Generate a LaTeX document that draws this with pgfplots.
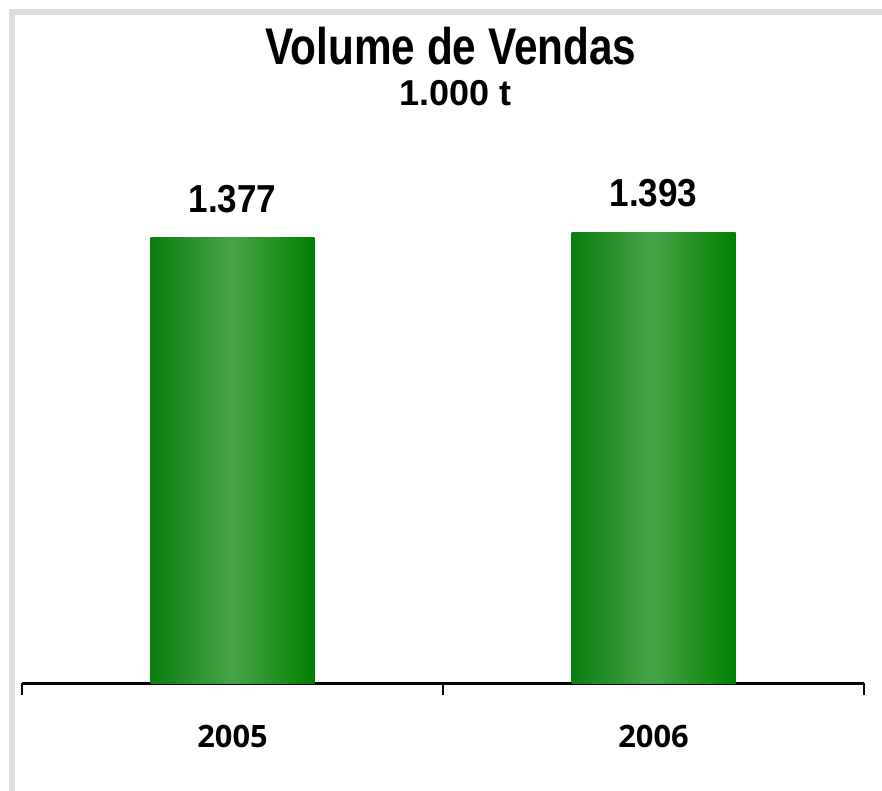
\documentclass[border=0pt]{standalone}
\usepackage{fontspec}
\usepackage{pgfplots}
\pgfplotsset{compat=1.18}
\setmainfont{Liberation Sans}
\newfontfamily\titlefont[FakeStretch=0.82]{Liberation Sans}
\newfontfamily\valfont[FakeStretch=0.9]{Liberation Sans}
\newfontfamily\tickfont{Open Sans}
\definecolor{barEdge}{RGB}{0,128,0}
\definecolor{barLeft}{RGB}{10,126,16}
\definecolor{barLight}{RGB}{72,163,72}
\definecolor{frameGray}{RGB}{221,221,221}

\begin{document}
\begin{tikzpicture}
  % 1 px of the reference = 0.5pt; axis box corner (22,683) px sits at (0,0)
  \path[use as bounding box] (-11pt,-54pt) rectangle (430pt,341.5pt);
  \fill[frameGray] (-6.5pt,334pt) rectangle (430pt,337pt);
  \fill[frameGray] (-6.5pt,-54pt) rectangle (-3.5pt,337pt);

  \begin{axis}[
    at={(0,0)}, anchor=south west,
    scale only axis, width=421pt, height=281.5pt,
    xmin=-0.5, xmax=1.5, ymin=0, ymax=1742,
    axis x line*=bottom, axis y line=none,
    x axis line style={line width=1.5pt, -},
    xtick={0,1}, xticklabels={2005,2006},
    major tick length=0pt,
    extra x ticks={-0.5,0.5,1.5}, extra x tick labels={},
    extra tick style={major tick length=6pt, tick align=outside,
      tick style={line width=1pt, black}},
    xticklabel style={font=\tickfont\bfseries\fontsize{15.4}{18}\selectfont,
      anchor=base, inner sep=0pt, yshift=-32pt},
    ytick=\empty,
    clip=false,
    ybar, bar width=82pt, bar shift=0pt,
    nodes near coords,
    point meta=explicit symbolic,
    nodes near coords style={font=\valfont\bfseries\fontsize{19.5}{22}\selectfont,
      text=black, anchor=south, inner sep=0pt, yshift=12.5pt},
    every axis plot/.append style={draw=none, left color=barLeft,
      right color=barEdge, middle color=barLight},
  ]
    \addplot coordinates {(0,1377) [1.377]};
    \addplot coordinates {(1,1393) [1.393]};
  \end{axis}

  \node[anchor=base, inner sep=0pt, font=\titlefont\bfseries\fontsize{25.8}{30}\selectfont]
    at (214.5pt,309pt) {Volume de Vendas};
  \node[anchor=base, inner sep=0pt, font=\bfseries\fontsize{18}{21}\selectfont]
    at (216.75pt,288.5pt) {1.000 t};
\end{tikzpicture}
\end{document}
